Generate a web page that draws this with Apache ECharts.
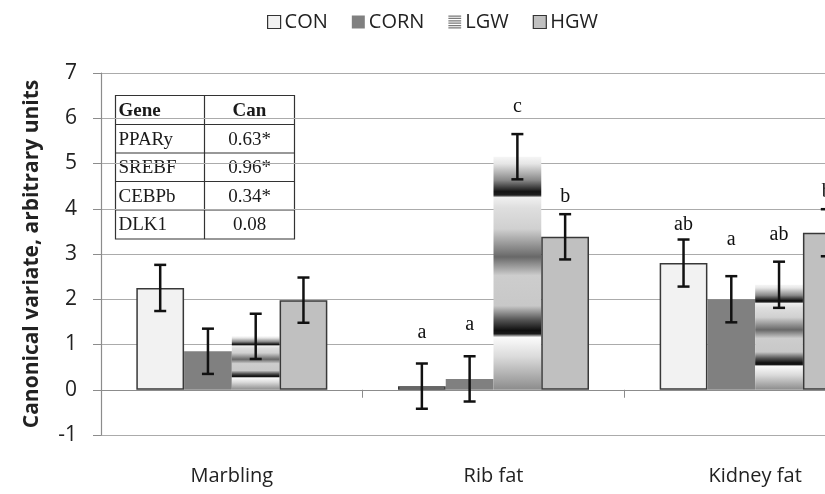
<!DOCTYPE html>
<html>
<head>
<meta charset="utf-8">
<script src="https://cdn.jsdelivr.net/npm/echarts@6/dist/echarts.min.js"></script>
<style>
html,body{margin:0;padding:0;background:#fff;}
#chart{width:825px;height:494px;}
</style>
</head>
<body>
<div id="chart"></div>
<script>
// ---- data ----
var categories = ['Marbling', 'Rib fat', 'Kidney fat'];
var groups = ['CON', 'CORN', 'LGW', 'HGW'];

var conMean  = [2.25, 0.08, 2.80];
var conErr   = [0.51, 0.50, 0.52];
var cornMean = [0.85, 0.24, 2.00];
var cornErr  = [0.50, 0.50, 0.51];
var lgwMean  = [1.18, 5.15, 2.32];
var lgwErr   = [0.50, 0.50, 0.51];
var hgwMean  = [1.98, 3.38, 3.47];
var hgwErr   = [0.50, 0.50, 0.52];

var conLetters  = ['', 'a', 'ab'];
var cornLetters = ['', 'a', 'a'];
var lgwLetters  = ['', 'c', 'ab'];
var hgwLetters  = ['', 'b', 'b'];
// heights (in axis units) where the significance letters sit
var conLetterY  = [null, 1.26, 3.64];
var cornLetterY = [null, 1.43, 3.31];
var lgwLetterY  = [null, 6.25, 3.42];
var hgwLetterY  = [null, 4.26, 4.37];

var yTicks = [-1, 0, 1, 2, 3, 4, 5, 6, 7];

var tableHeader = ['Gene', 'Can'];
var tableGenes = ['PPARy', 'SREBF', 'CEBPb', 'DLK1'];
var tableCan = ['0.63*', '0.96*', '0.34*', '0.08'];

// ---- styles ----
var CAT_GAP = 0.27;
var means = [conMean, cornMean, lgwMean, hgwMean];
var errs = [conErr, cornErr, lgwErr, hgwErr];
var letters = [conLetters, cornLetters, lgwLetters, hgwLetters];
var letterYs = [conLetterY, cornLetterY, lgwLetterY, hgwLetterY];

var lgwGradient = {
  type: 'linear', x: 0, y: 0, x2: 0, y2: 1,
  colorStops: [
    {offset: 0, color: '#f6f6f6'},
    {offset: 0.03, color: '#e6e6e6'},
    {offset: 0.10, color: '#8a8a8a'},
    {offset: 0.15, color: '#141414'},
    {offset: 0.165, color: '#202020'},
    {offset: 0.175, color: '#f0f0f0'},
    {offset: 0.22, color: '#dedede'},
    {offset: 0.31, color: '#d0d0d0'},
    {offset: 0.43, color: '#686868'},
    {offset: 0.51, color: '#cdcdcd'},
    {offset: 0.64, color: '#c8c8c8'},
    {offset: 0.70, color: '#555555'},
    {offset: 0.745, color: '#101010'},
    {offset: 0.76, color: '#1a1a1a'},
    {offset: 0.775, color: '#fbfbfb'},
    {offset: 0.86, color: '#dadada'},
    {offset: 1, color: '#8c8c8c'}
  ]
};

var barStyles = [
  {color: '#f2f2f2', borderColor: '#383838', borderWidth: 1.5},
  {color: '#808080', borderWidth: 0},
  {color: lgwGradient, borderWidth: 0},
  {color: '#c0c0c0', borderColor: '#383838', borderWidth: 1.5}
];

var series = [];
groups.forEach(function (g, gi) {
  series.push({
    name: g,
    type: 'bar',
    data: means[gi],
    barGap: '0%',
    barCategoryGap: (CAT_GAP * 100) + '%',
    itemStyle: barStyles[gi],
    emphasis: {disabled: true},
    z: 2
  });
});
groups.forEach(function (g, gi) {
  var d = categories.map(function (c, ci) {
    return [ci, means[gi][ci], errs[gi][ci], letterYs[gi][ci] == null ? NaN : letterYs[gi][ci]];
  });
  series.push({
    type: 'custom',
    name: g + '_err',
    data: d,
    z: 5,
    silent: true,
    encode: {x: 0, y: 1},
    renderItem: function (params, api) {
      var ci = api.value(0), m = api.value(1), e = api.value(2), ly = api.value(3);
      var catW = api.size([1, 0])[0];
      var bw = catW * (1 - CAT_GAP) / 4;
      var cx = api.coord([ci, 0])[0] + (gi - 1.5) * bw;
      var yt = api.coord([ci, m + e])[1];
      var yb = api.coord([ci, m - e])[1];
      var cap = 6;
      var st = {stroke: '#111', lineWidth: 2.5};
      var ch = [
        {type: 'line', shape: {x1: cx, y1: yt, x2: cx, y2: yb}, style: st},
        {type: 'line', shape: {x1: cx - cap, y1: yt, x2: cx + cap, y2: yt}, style: st},
        {type: 'line', shape: {x1: cx - cap, y1: yb, x2: cx + cap, y2: yb}, style: st}
      ];
      var txt = letters[gi][params.dataIndex];
      if (txt && !isNaN(ly)) {
        var p = api.coord([ci, ly]);
        ch.push({type: 'text', x: cx, y: p[1], style: {
          text: txt, fill: '#111', font: '20px "Liberation Serif", serif',
          align: 'center', verticalAlign: 'middle'}});
      }
      return {type: 'group', children: ch};
    }
  });
});

// ---- table graphic ----
var tX = 113, tY = 93, colW = [89, 90], rowH = [29, 28.5, 28.5, 28.5, 29];
var tW = colW[0] + colW[1];
var tH = rowH.reduce(function (a, b) { return a + b; }, 0);
var tChildren = [
  {type: 'rect', shape: {x: 0, y: 0, width: tW, height: tH}, style: {fill: '#fff', stroke: '#333', lineWidth: 1.2}},
  {type: 'line', shape: {x1: colW[0], y1: 0, x2: colW[0], y2: tH}, style: {stroke: '#333', lineWidth: 1.2}}
];
var yy = 0;
var rows = [tableHeader].concat(tableGenes.map(function (g, i) { return [g, tableCan[i]]; }));
rows.forEach(function (r, ri) {
  if (ri > 0) tChildren.push({type: 'line', shape: {x1: 0, y1: yy, x2: tW, y2: yy}, style: {stroke: '#333', lineWidth: 1.2}});
  var fw = ri === 0 ? 'bold ' : '';
  tChildren.push({type: 'text', x: 3, y: yy + rowH[ri] / 2 + 1, style: {
    text: r[0], fill: '#1a1a1a', font: fw + '19px "Liberation Serif", serif', verticalAlign: 'middle', align: 'left'}});
  tChildren.push({type: 'text', x: colW[0] + colW[1] / 2, y: yy + rowH[ri] / 2 + 1, style: {
    text: r[1], fill: '#1a1a1a', font: fw + '19px "Liberation Serif", serif', verticalAlign: 'middle', align: 'center'}});
  yy += rowH[ri];
});

var chart = echarts.init(document.getElementById('chart'), null, {renderer: 'canvas'});
chart.setOption({
  animation: false,
  backgroundColor: '#fff',
  legend: {
    data: [
      {name: 'CON', icon: 'rect', itemStyle: {color: '#f2f2f2', borderColor: '#333', borderWidth: 1.2}},
      {name: 'CORN', icon: 'rect', itemStyle: {color: '#808080'}},
      {name: 'LGW', icon: 'path://M0,0H12V1.2H0Z M0,2.2H12V3.4H0Z M0,4.4H12V5.6H0Z M0,6.6H12V7.8H0Z M0,8.8H12V10H0Z M0,11H12V12.2H0Z', itemStyle: {color: '#7a7a7a'}},
      {name: 'HGW', icon: 'rect', itemStyle: {color: '#c0c0c0', borderColor: '#333', borderWidth: 1.2}}
    ],
    left: 262,
    top: 7,
    itemWidth: 13,
    itemHeight: 13,
    itemGap: 24,
    selectedMode: false,
    textStyle: {fontFamily: 'Open Sans', fontSize: 20, color: '#222', padding: [0, 0, 0, -1]}
  },
  grid: {left: 101, top: 73, width: 785, height: 362, outerBoundsMode: 'none', containLabel: false},
  xAxis: {
    type: 'category',
    data: categories,
    axisLine: {show: true, lineStyle: {color: '#8c8c8c', width: 1.2}},
    axisTick: {show: true, length: 8, lineStyle: {color: '#8c8c8c'}},
    axisLabel: {margin: 31, fontFamily: 'Open Sans', fontSize: 20, color: '#222'},
    splitLine: {show: false}
  },
  yAxis: {
    type: 'value',
    min: yTicks[0],
    max: yTicks[yTicks.length - 1],
    interval: 1,
    name: 'Canonical variate, arbitrary units',
    nameLocation: 'middle',
    nameGap: 58,
    nameTextStyle: {fontFamily: 'Open Sans', fontSize: 21, fontWeight: 'bold', color: '#222'},
    axisLine: {show: true, lineStyle: {color: '#8c8c8c', width: 1.2}},
    axisTick: {show: true, length: 8, lineStyle: {color: '#8c8c8c'}},
    axisLabel: {margin: 24, fontFamily: 'Open Sans', fontSize: 21, color: '#222'},
    splitLine: {show: true, lineStyle: {color: '#ababab', width: 1.2}}
  },
  series: series,
  graphic: [{type: 'group', left: tX, top: tY, z: 10, children: tChildren}]
});
</script>
</body>
</html>
